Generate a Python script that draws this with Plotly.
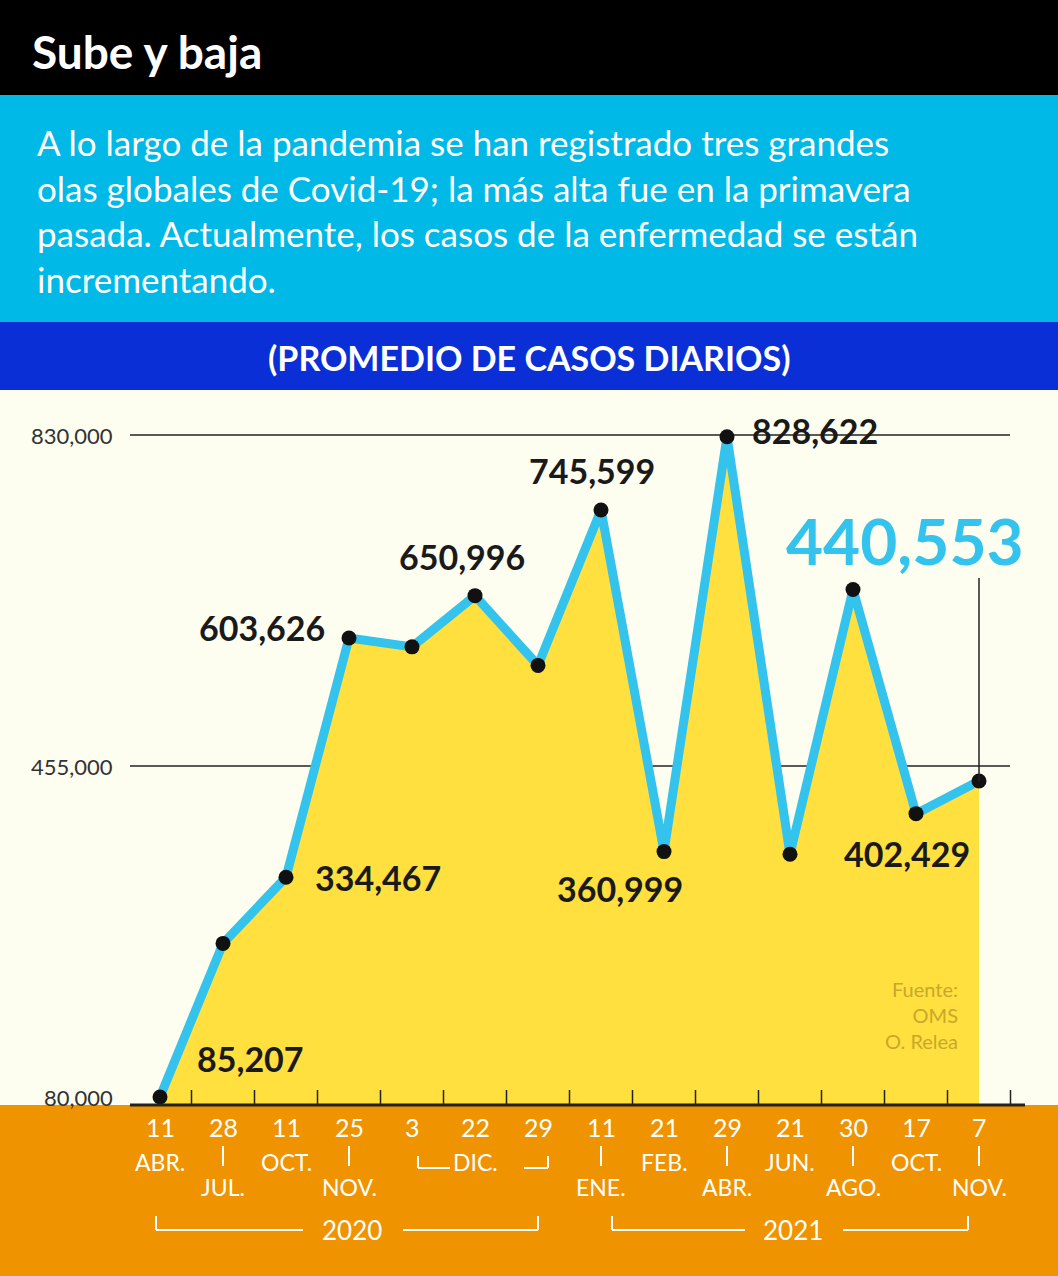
import plotly.graph_objects as go

W, H = 1058, 1276
dates = ["11 ABR 2020","28 JUL 2020","11 OCT 2020","25 NOV 2020","3 DIC 2020","22 DIC 2020","29 DIC 2020",
         "11 ENE 2021","21 FEB 2021","29 ABR 2021","21 JUN 2021","30 AGO 2021","17 OCT 2021","7 NOV 2021"]
values = [80000, 254000, 329000, 600000, 590000, 648000, 569000, 745000, 358000, 828000, 355000, 655000, 401000, 438000]
value_labels = ["", "85,207", "334,467", "603,626", "", "650,996", "", "745,599", "360,999", "828,622", "", "", "402,429", "440,553"]
day_labels = ["11","28","11","25","3","22","29","11","21","29","21","30","17","7"]
month_row1 = ["ABR.","|","OCT.","|","","DIC.","","|","FEB.","|","JUN.","|","OCT.","|"]
month_row2 = ["","JUL.","","NOV.","","","","ENE.","","ABR.","","AGO.","","NOV."]
y_ticks = [80000, 455000, 830000]
y_tick_labels = ["80,000", "455,000", "830,000"]

x0px, dx = 160, 63.0
ppv = (1097 - 435) / 750000.0
xr = [(0 - x0px) / dx, (W - x0px) / dx]
yr = [80000 + (1097 - H) / ppv, 80000 + 1097 / ppv]
def py(p): return 1 - p / H
def px(p): return p / W

xs = list(range(len(values)))
fig = go.Figure()
fig.add_trace(go.Scatter(x=xs, y=values, mode="lines", fill="tozeroy", fillcolor="#ffe03f",
                         line=dict(color="#33c3ec", width=9), hoverinfo="skip"))
fig.add_trace(go.Scatter(x=xs, y=values, mode="markers",
                         marker=dict(color="#111111", size=15), hoverinfo="skip"))

shapes = [
    dict(type="rect", xref="paper", yref="paper", x0=0, x1=1, y0=py(390), y1=1, fillcolor="#00b9e6", line_width=0, layer="below"),
    dict(type="rect", xref="paper", yref="paper", x0=0, x1=1, y0=py(95), y1=1, fillcolor="#000000", line_width=0, layer="below"),
    dict(type="rect", xref="paper", yref="paper", x0=0, x1=1, y0=py(390), y1=py(322), fillcolor="#0a2fd6", line_width=0, layer="below"),
    dict(type="rect", xref="paper", yref="paper", x0=0, x1=1, y0=py(1105), y1=py(390), fillcolor="#fdfdf0", line_width=0, layer="below"),
    dict(type="rect", xref="paper", yref="paper", x0=0, x1=1, y0=0, y1=py(1105), fillcolor="#f09300", line_width=0, layer="above"),
    dict(type="line", xref="paper", yref="paper", x0=px(130), x1=px(1025), y0=py(1105), y1=py(1105), line=dict(color="#222", width=3), layer="above"),
]
for v in y_ticks[1:]:
    shapes.append(dict(type="line", xref="paper", yref="y", x0=px(130), x1=px(1010), y0=v, y1=v, line=dict(color="#222", width=1.5), layer="below"))
for i in range(len(values)):
    shapes.append(dict(type="line", xref="x", yref="paper", x0=i + 0.5, x1=i + 0.5, y0=py(1104), y1=py(1090), line=dict(color="#222", width=1.5), layer="above"))
    if month_row1[i] == "|":
        shapes.append(dict(type="line", xref="x", yref="paper", x0=i, x1=i, y0=py(1146), y1=py(1166), line=dict(color="white", width=2), layer="above"))
shapes.append(dict(type="line", xref="x", yref="y", x0=13, x1=13, y0=values[13], y1=80000 + (1097 - 578) / ppv, line=dict(color="#222", width=1.5)))
def hl(a, b, y, col="white"):
    shapes.append(dict(type="line", xref="paper", yref="paper", x0=px(a), x1=px(b), y0=py(y), y1=py(y), line=dict(color=col, width=2), layer="above"))
def vl(x, a, b, col="white"):
    shapes.append(dict(type="line", xref="paper", yref="paper", x0=px(x), x1=px(x), y0=py(a), y1=py(b), line=dict(color=col, width=2), layer="above"))
hl(418, 450, 1168); vl(418, 1156, 1168); hl(524, 548, 1168); vl(548, 1156, 1168)
hl(156, 303, 1230); vl(156, 1216, 1230); hl(403, 538, 1230); vl(538, 1216, 1230)
hl(612, 745, 1230); vl(612, 1216, 1230); hl(843, 968, 1230); vl(968, 1216, 1230)

F = "Lato"
ann = []
ann.append(dict(x=px(30), y=py(52), text="<b>Sube y baja</b>", font=dict(family=F, size=46, color="white"), xanchor="left"))
ann.append(dict(x=px(35), y=py(210), text="A lo largo de la pandemia se han registrado tres grandes<br>olas globales de Covid-19; la más alta fue en la primavera<br>pasada. Actualmente, los casos de la enfermedad se están<br>incrementando.",
                font=dict(family=F, size=35, color="white"), xanchor="left", align="left"))
ann.append(dict(x=0.5, y=py(357), text="<b>(PROMEDIO DE CASOS DIARIOS)</b>", font=dict(family=F, size=34, color="white")))
for v, t in zip(y_ticks, y_tick_labels):
    ann.append(dict(x=px(115), y=v, yref="y", text=t, xanchor="right", font=dict(family=F, size=22, color="#333")))
lab_pos = {1: (250, 1058), 2: (378, 877), 3: (262, 627), 5: (462, 557), 7: (592, 470), 8: (620, 888), 9: (815, 430), 12: (907, 853)}
for i, (xp, yp) in lab_pos.items():
    ann.append(dict(x=px(xp), y=py(yp), text="<b>" + value_labels[i] + "</b>", font=dict(family=F, size=34, color="#1a1a1a")))
ann.append(dict(x=px(905), y=py(540), text="<b>" + value_labels[13] + "</b>", font=dict(family=F, size=64, color="#33c3ec")))
ann.append(dict(x=px(960), y=py(1015), text="Fuente:<br>OMS<br>O. Relea", xanchor="right", align="right", font=dict(family=F, size=20, color="#c8a82a")))
for i in xs:
    ann.append(dict(x=i, xref="x", y=py(1127), text=day_labels[i], font=dict(family=F, size=25, color="white")))
    if month_row1[i] and month_row1[i] != "|":
        ann.append(dict(x=i, xref="x", y=py(1162), text=month_row1[i], font=dict(family=F, size=23, color="white")))
    if month_row2[i]:
        ann.append(dict(x=i, xref="x", y=py(1187), text=month_row2[i], font=dict(family=F, size=23, color="white")))
ann.append(dict(x=px(352), y=py(1230), text="2020", font=dict(family=F, size=26, color="white")))
ann.append(dict(x=px(793), y=py(1230), text="2021", font=dict(family=F, size=26, color="white")))
for a in ann:
    a.setdefault("xref", "paper"); a.setdefault("yref", "paper"); a["showarrow"] = False
    a.setdefault("xanchor", "center"); a.setdefault("yanchor", "middle")

fig.update_layout(width=W, height=H, margin=dict(l=0, r=0, t=0, b=0), showlegend=False,
                  paper_bgcolor="#fdfdf0", plot_bgcolor="rgba(0,0,0,0)",
                  xaxis=dict(range=xr, visible=False, fixedrange=True),
                  yaxis=dict(range=yr, visible=False, fixedrange=True),
                  shapes=shapes, annotations=ann)
fig.write_html("out.html", config={"displayModeBar": False},
               post_script="document.body.style.margin='0';")
